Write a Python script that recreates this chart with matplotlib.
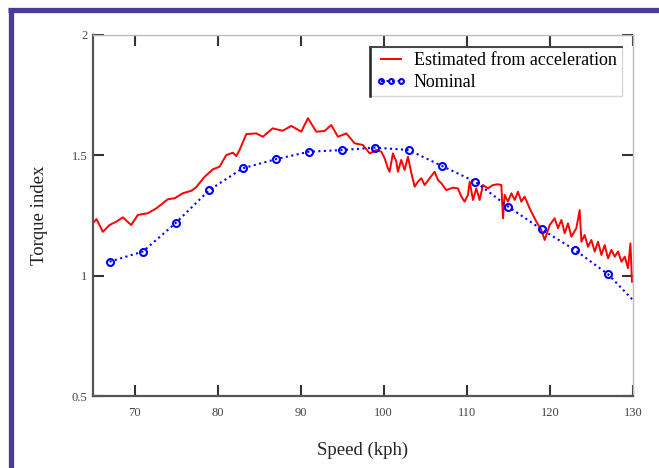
import matplotlib
matplotlib.use("Agg")
import matplotlib.pyplot as plt
from matplotlib.lines import Line2D

plt.rcParams['font.family'] = ['Liberation Serif', 'DejaVu Serif']

# Estimated from acceleration (speed in kph, torque index)
est_speed = [65.0, 65.42, 66.18, 66.99, 67.80, 68.59, 69.60, 70.40, 71.60, 72.61,
             74.01, 74.82, 75.82, 76.83, 77.43, 78.43, 79.43, 80.23, 81.04, 81.84,
             82.25, 82.64, 83.45, 84.65, 85.45, 86.62, 87.82, 88.87, 90.07, 90.87,
             91.88, 92.88, 93.68, 94.48, 95.49, 96.49, 97.49,
             98.30, 99.10, 99.71, 100.10, 100.50, 100.70, 101.10, 101.51, 101.70, 102.11,
             102.51, 102.91, 103.32, 103.72, 104.11, 104.52, 104.92, 105.52, 106.12, 106.52,
             106.93, 107.53, 108.33, 108.93, 109.34, 109.73, 110.13, 110.34, 110.74, 111.14,
             111.54, 111.94, 112.54, 113.14, 113.74, 114.15, 114.35, 114.55, 114.95, 115.36,
             115.76, 116.15, 116.56, 116.96, 117.56, 118.37, 118.97, 119.37, 119.97, 120.57,
             120.97, 121.38, 121.78, 122.17, 122.58, 123.18, 123.58, 123.79, 124.18, 124.58,
             124.99, 125.39, 125.79, 126.20, 126.59, 127.00, 127.40, 127.80, 128.20, 128.61,
             129.00, 129.40, 129.69, 129.88]
est_torque = [1.218, 1.235, 1.182, 1.210, 1.224, 1.242, 1.210, 1.252, 1.259, 1.279,
              1.317, 1.321, 1.342, 1.352, 1.367, 1.410, 1.441, 1.452, 1.500, 1.510,
              1.496, 1.521, 1.587, 1.590, 1.576, 1.611, 1.601, 1.621, 1.597, 1.653,
              1.597, 1.600, 1.625, 1.576, 1.590, 1.549, 1.542,
              1.507, 1.521, 1.514, 1.487, 1.445, 1.431, 1.507, 1.473, 1.431, 1.480,
              1.438, 1.493, 1.425, 1.369, 1.390, 1.404, 1.376, 1.404, 1.431, 1.397,
              1.383, 1.355, 1.365, 1.362, 1.328, 1.307, 1.335, 1.390, 1.314, 1.362,
              1.314, 1.376, 1.362, 1.376, 1.379, 1.376, 1.238, 1.335, 1.307, 1.342,
              1.314, 1.348, 1.307, 1.328, 1.279, 1.224, 1.189, 1.148, 1.210, 1.238,
              1.197, 1.231, 1.176, 1.217, 1.162, 1.197, 1.272, 1.141, 1.169, 1.120,
              1.148, 1.100, 1.141, 1.086, 1.127, 1.072, 1.107, 1.079, 1.100, 1.058,
              1.079, 1.031, 1.134, 0.975]

# Nominal curve
nom_speed = [67, 71, 75, 79, 83, 87, 91, 95, 99, 103, 107, 111, 115, 119, 123, 127, 130]
nom_torque = [1.058, 1.100, 1.220, 1.355, 1.445, 1.483, 1.514, 1.521, 1.531, 1.521,
              1.455, 1.390, 1.286, 1.192, 1.107, 1.006, 0.899]

x_ticks = [70, 80, 90, 100, 110, 120, 130]
y_ticks = [0.5, 1, 1.5, 2]
y_tick_labels = ['0.5', '1', '1.5', '2']

W, H = 659, 468
fig = plt.figure(figsize=(W / 100, H / 100), dpi=100)
ax = fig.add_axes([93 / W, 1 - 396.3 / H, 540 / W, 361.8 / H])

ax.plot(est_speed, est_torque, color='#ff0000', lw=1.4,
        label='Estimated from acceleration')
ax.plot(nom_speed, nom_torque, color='#0000ff', lw=1.5, ls=':', marker='o',
        markersize=5, markerfacecolor='none', markeredgewidth=1.5,
        markevery=list(range(len(nom_speed) - 1)), label='Nominal')

ax.set_xlim(65, 130)
ax.set_ylim(0.5, 2)
ax.set_xticks(x_ticks)
ax.set_yticks(y_ticks)
ax.set_yticklabels(y_tick_labels)

for side in ['left', 'bottom']:
    ax.spines[side].set_color('#555555')
    ax.spines[side].set_linewidth(1.6)
for side in ['top', 'right']:
    ax.spines[side].set_color('#bbbbbb')
    ax.spines[side].set_linewidth(1.0)

ax.tick_params(direction='in', length=8, width=1.5, color='#333333',
               top=True, right=True, labelsize=9, labelcolor='#444444')
ax.tick_params(axis='x', pad=8)
ax.tick_params(axis='y', pad=4)

ax.set_xlabel('Speed (kph)', fontsize=13.5, color='#222222', labelpad=16)
ax.set_ylabel('Torque index', fontsize=13.5, color='#222222', labelpad=17)

leg = ax.legend(loc='upper right', bbox_to_anchor=(0.9796, 0.9655),
                borderaxespad=0, fontsize=13, handlelength=1.7,
                handletextpad=0.4, borderpad=0.3, labelspacing=0.25,
                numpoints=3, frameon=True, fancybox=False)
leg.get_frame().set_edgecolor('#cccccc')
leg.get_frame().set_linewidth(1.0)
for h in leg.legend_handles:
    if h.get_marker() == 'o':
        h.set_markersize(3.5)

fig.canvas.draw()
bb = leg.get_window_extent()
x0, y0, x1, y1 = bb.x0 / W, bb.y0 / H, bb.x1 / W, bb.y1 / H
fig.add_artist(Line2D([x0, x0], [y0, y1], transform=fig.transFigure,
                      color='#222222', lw=1.8))
fig.add_artist(Line2D([x0, x1], [y1, y1], transform=fig.transFigure,
                      color='#444444', lw=1.4))

# purple frame (top and left edges visible)
fig.add_artist(Line2D([8 / W, 1.0], [1 - 10 / H, 1 - 10 / H], transform=fig.transFigure,
                      color='#4a3c9c', lw=3.8, solid_capstyle='butt'))
fig.add_artist(Line2D([10.8 / W, 10.8 / W], [0.0, 1 - 8 / H], transform=fig.transFigure,
                      color='#4a3c9c', lw=3.8, solid_capstyle='butt'))

fig.savefig('out.png', dpi=100)
